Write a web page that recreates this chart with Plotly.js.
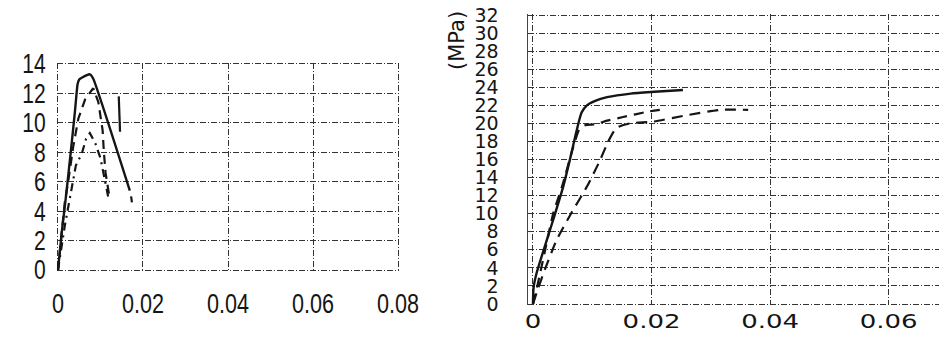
<!DOCTYPE html>
<html><head><meta charset="utf-8">
<script src="https://cdn.plot.ly/plotly-3.0.1.min.js"></script>
<style>html,body{margin:0;padding:0;background:#fff}#chart{width:939px;height:338px}</style>
</head><body><div id="chart"></div>
<script>
// ---- left panel data (strain, stress MPa)
const leftXTicks = [0, 0.02, 0.04, 0.06, 0.08];
const leftXTickText = ["0", "0.02", "0.04", "0.06", "0.08"];
const leftYTicks = [0, 2, 4, 6, 8, 10, 12, 14];
const leftYTickText = ["0", "2", "4", "6", "8", "10", "12", "14"];

const leftSolidX = [0, 0.0009, 0.0018, 0.0030, 0.0040, 0.0046, 0.0050, 0.0058, 0.0068, 0.0075, 0.0083, 0.0169];
const leftSolidY = [0, 2.6, 4.8, 8.0, 10.8, 12.6, 12.95, 13.1, 13.25, 13.3, 13.0, 5.4];

const leftDashX = [0, 0.0016, 0.0024, 0.0036, 0.0048, 0.0064, 0.0079, 0.0083, 0.0095, 0.0105, 0.0108, 0.0112, 0.0122];
const leftDashY = [0, 4.6, 6.0, 8.4, 10.3, 11.6, 12.2, 12.35, 11.4, 9.5, 8.0, 6.6, 4.8];

const leftDashDotX = [0, 0.0016, 0.0030, 0.0042, 0.0056, 0.0066, 0.0075, 0.0088, 0.0100, 0.0110, 0.0118];
const leftDashDotY = [0, 3.0, 5.2, 7.1, 7.9, 8.9, 9.3, 8.6, 7.6, 6.2, 5.0];

const leftExtraX = [0.0143, 0.0146, null, 0.0172, 0.0174];
const leftExtraY = [11.8, 9.4, null, 5.0, 4.6];

// ---- right panel data
const rightXTicks = [0, 0.02, 0.04, 0.06];
const rightXTickText = ["0", "0.02", "0.04", "0.06"];
const rightYTicks = [0, 2, 4, 6, 8, 10, 12, 14, 16, 18, 20, 22, 24, 26, 28, 30, 32];
const rightYTickText = ["0", "2", "4", "6", "8", "10", "12", "14", "16", "18", "20", "22", "24", "26", "28", "30", "32"];

const rightSolidX = [0, 0.0001, 0.0006, 0.0034, 0.0051, 0.0062, 0.0074, 0.0082, 0.0091, 0.0105, 0.0125, 0.0165, 0.0205, 0.0253];
const rightSolidY = [0, 1.8, 3.4, 9.3, 13.0, 15.9, 19.3, 21.2, 22.0, 22.5, 22.9, 23.3, 23.5, 23.7];

const rightDash1X = [0, 0.0008, 0.0020, 0.0034, 0.0049, 0.0068, 0.0078, 0.0088, 0.0105, 0.0125, 0.0152, 0.0194, 0.0214];
const rightDash1Y = [0, 2.2, 5.8, 10.0, 13.0, 17.4, 19.3, 19.8, 19.9, 20.3, 20.7, 21.3, 21.5];

const rightDash2X = [0, 0.0008, 0.0020, 0.0040, 0.0065, 0.0091, 0.0113, 0.0127, 0.0141, 0.0164, 0.0203, 0.0259, 0.0316, 0.0363];
const rightDash2Y = [0, 1.6, 3.8, 7.1, 10.1, 13.0, 15.9, 18.0, 19.5, 20.0, 20.2, 20.9, 21.5, 21.5];

const yUnitLabel = "(MPa)";

const ink = "#151515";
const traces = [
  {x: leftSolidX, y: leftSolidY, xaxis: "x", yaxis: "y", mode: "lines", line: {color: ink, width: 2.4, shape: "spline", smoothing: 0.4}},
  {x: leftDashX, y: leftDashY, xaxis: "x", yaxis: "y", mode: "lines", line: {color: ink, width: 2.2, dash: "9px,6px"}},
  {x: leftDashDotX, y: leftDashDotY, xaxis: "x", yaxis: "y", mode: "lines", line: {color: ink, width: 2.2, dash: "8px,5px,2px,5px"}},
  {x: leftExtraX, y: leftExtraY, xaxis: "x", yaxis: "y", mode: "lines", line: {color: ink, width: 2.2}, connectgaps: false},
  {x: rightSolidX, y: rightSolidY, xaxis: "x2", yaxis: "y2", mode: "lines", line: {color: ink, width: 2.4, shape: "spline", smoothing: 0.6}},
  {x: rightDash1X, y: rightDash1Y, xaxis: "x2", yaxis: "y2", mode: "lines", line: {color: ink, width: 2.2, dash: "10px,7px", shape: "spline", smoothing: 0.6}},
  {x: rightDash2X, y: rightDash2Y, xaxis: "x2", yaxis: "y2", mode: "lines", line: {color: ink, width: 2.2, dash: "11px,7px", shape: "spline", smoothing: 0.6}}
];

const narrow = {family: "Liberation Sans, Arial, sans-serif", size: 27, color: ink};
const wideFam = "DejaVu Sans, Verdana, sans-serif";
const W = 939, H = 338;
const gridL = {showgrid: true, gridcolor: "#333333", gridwidth: 1, griddash: "6px,2px,1px,2px", zeroline: false, ticks: "", showline: false, automargin: false};

const layout = {
  width: W, height: H,
  margin: {l: 0, r: 0, t: 0, b: 0},
  paper_bgcolor: "#ffffff", plot_bgcolor: "#ffffff",
  showlegend: false,
  xaxis: Object.assign({}, gridL, {anchor: "y", domain: [56.7 / W, 399.3 / W], range: [-0.0003, 0.0803],
    tickvals: leftXTicks, ticktext: leftXTickText, tickfont: narrow, ticklabelstandoff: 14}),
  yaxis: Object.assign({}, gridL, {anchor: "x", domain: [(H - 271.5) / H, (H - 62.5) / H], range: [-0.1, 14.1],
    tickvals: leftYTicks, ticktext: leftYTickText, tickfont: narrow, ticklabelstandoff: 10}),
  xaxis2: Object.assign({}, gridL, {anchor: "y2", domain: [528 / W, 1], range: [-0.00084, 0.0685],
    tickvals: rightXTicks, ticktext: rightXTickText, tickfont: {family: wideFam, size: 20, color: ink}, ticklabelstandoff: 2}),
  yaxis2: Object.assign({}, gridL, {anchor: "x2", domain: [(H - 305.35) / H, (H - 13.65) / H], range: [-0.15, 32.15],
    tickvals: rightYTicks, ticktext: rightYTickText, tickfont: {family: wideFam, size: 19, color: ink}, ticklabelstandoff: 24,
    showline: true, linecolor: "#444", linewidth: 1.5}),
  annotations: [
    {text: yUnitLabel, xref: "paper", yref: "paper", x: 457 / W, y: (H - 41) / H, textangle: -90,
     showarrow: false, font: {family: wideFam, size: 21, color: ink}, xanchor: "center", yanchor: "middle"}
  ]
};

function squeeze(selector, sx) {
  document.querySelectorAll(selector).forEach(function (t) {
    const x = parseFloat(t.getAttribute("x")) || 0;
    const y = parseFloat(t.getAttribute("y")) || 0;
    const prev = t.getAttribute("transform") || "";
    t.setAttribute("transform", prev + " translate(" + x + "," + y + ") scale(" + sx + ",1) translate(" + (-x) + "," + (-y) + ")");
  });
}

Plotly.newPlot("chart", traces, layout, {staticPlot: true, displayModeBar: false}).then(function () {
  squeeze("#chart g.xtick text", 0.8);
  squeeze("#chart g.ytick text", 0.78);
  squeeze("#chart g.x2tick text", 1.3);
});
</script>
</body></html>
